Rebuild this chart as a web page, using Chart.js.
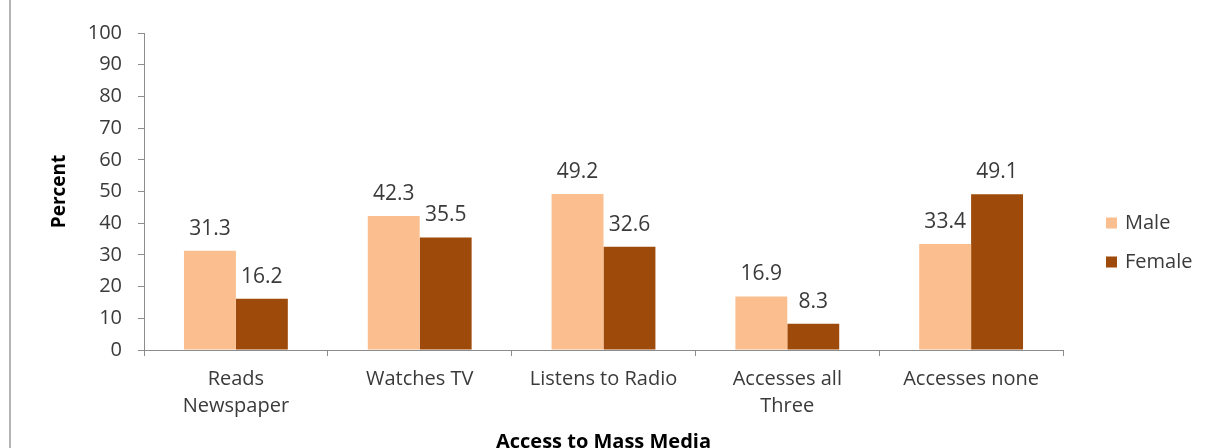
<!DOCTYPE html>
<html>
<head>
<meta charset="utf-8">
<title>Access to Mass Media</title>
<script src="https://cdn.jsdelivr.net/npm/chart.js@4.4.0/dist/chart.umd.min.js"></script>
<style>
    html, body { margin: 0; padding: 0; background: #ffffff; }
    #wrap { position: relative; width: 1209px; height: 448px; }
</style>
</head>
<body>
<div id="wrap"><canvas id="mediaChart"></canvas></div>
<script>
// chart data
const categories = [['Reads', 'Newspaper'], 'Watches TV', 'Listens to Radio', ['Accesses all', 'Three'], 'Accesses none'];
const maleValues = [31.3, 42.3, 49.2, 16.9, 33.4];
const femaleValues = [16.2, 35.5, 32.6, 8.3, 49.1];
const seriesNames = ['Male', 'Female'];
const yMin = 0;
const yMax = 100;
const yStep = 10;

const FONT = "'Open Sans', sans-serif";
const TEXT = '#3a3a3a';
const AXIS = '#8c8c8c';
const colors = ['#fbbf8f', '#9e4a0a'];

// numbers over each bar
const valueLabels = {
    id: 'valueLabels',
    afterDatasetsDraw(chart) {
        const ctx = chart.ctx;
        ctx.save();
        ctx.font = '21px ' + FONT;
        ctx.fillStyle = TEXT;
        ctx.textAlign = 'center';
        ctx.textBaseline = 'middle';
        chart.data.datasets.forEach((ds, i) => {
            chart.getDatasetMeta(i).data.forEach((bar, j) => {
                ctx.fillText(ds.data[j].toFixed(1), bar.x, bar.y - 22);
            });
        });
        ctx.restore();
    }
};

// legend at the right, square swatches
const sideLegend = {
    id: 'sideLegend',
    afterDraw(chart) {
        const ctx = chart.ctx;
        ctx.save();
        ctx.font = '20px ' + FONT;
        ctx.textBaseline = 'middle';
        chart.data.datasets.forEach((ds, i) => {
            const y = 223 + i * 39;
            ctx.fillStyle = ds.backgroundColor;
            ctx.fillRect(1106, y - 5.5, 11, 11);
            ctx.fillStyle = TEXT;
            ctx.fillText(ds.label, 1125, y);
        });
        ctx.restore();
    }
};

// thin frame line down the left edge
const edgeLine = {
    id: 'edgeLine',
    beforeDraw(chart) {
        const ctx = chart.ctx;
        ctx.save();
        ctx.strokeStyle = '#b4b4b4';
        ctx.lineWidth = 2;
        ctx.beginPath();
        ctx.moveTo(10, 0);
        ctx.lineTo(10, chart.height);
        ctx.stroke();
        ctx.restore();
    }
};

new Chart(document.getElementById('mediaChart'), {
    type: 'bar',
    data: {
        labels: categories,
        datasets: [
            { label: seriesNames[0], data: maleValues, backgroundColor: colors[0] },
            { label: seriesNames[1], data: femaleValues, backgroundColor: colors[1] }
        ]
    },
    options: {
        responsive: true,
        maintainAspectRatio: false,
        animation: false,
        layout: { padding: { top: 33, right: 146, bottom: 0, left: 0 } },
        datasets: {
            bar: { categoryPercentage: 0.565, barPercentage: 1.0, borderWidth: 0 }
        },
        plugins: {
            legend: { display: false },
            tooltip: { enabled: false }
        },
        scales: {
            x: {
                afterFit(scale) { scale.height = 98; },
                grid: { display: true, drawOnChartArea: false, drawTicks: true, tickLength: 6, color: AXIS },
                border: { display: true, color: AXIS, width: 1 },
                ticks: {
                    color: TEXT,
                    padding: 10,
                    maxRotation: 0,
                    autoSkip: false,
                    font: { family: FONT, size: 20, lineHeight: 1.33 }
                },
                title: {
                    display: true,
                    text: 'Access to Mass Media',
                    color: '#000000',
                    padding: { top: 0, bottom: -6 },
                    font: { family: FONT, size: 20, weight: 'bold' }
                }
            },
            y: {
                min: yMin,
                max: yMax,
                afterFit(scale) { scale.width = 144; },
                grid: { display: true, drawOnChartArea: false, drawTicks: true, tickLength: 6, color: AXIS },
                border: { display: true, color: AXIS, width: 1 },
                ticks: {
                    stepSize: yStep,
                    color: TEXT,
                    padding: 16,
                    font: { family: FONT, size: 20 }
                },
                title: {
                    display: true,
                    text: 'Percent',
                    color: '#000000',
                    padding: { top: 48, bottom: 0 },
                    font: { family: FONT, size: 19, weight: 'bold' }
                }
            }
        }
    },
    plugins: [edgeLine, valueLabels, sideLegend]
});
</script>
</body>
</html>
